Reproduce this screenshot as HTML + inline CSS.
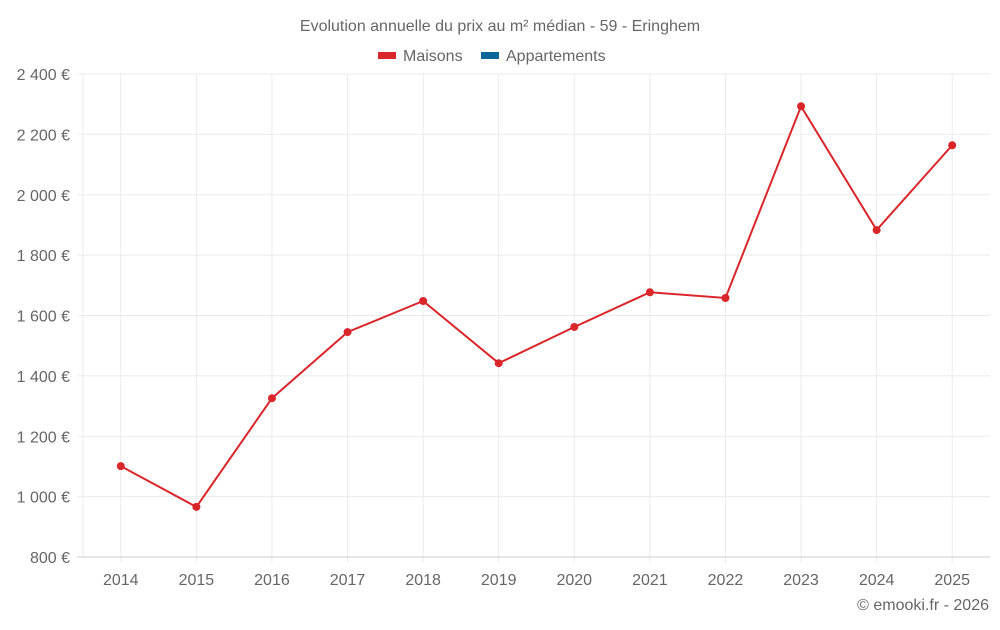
<!DOCTYPE html>
<html><head><meta charset="utf-8"><style>
body{margin:0;background:#fff;font-family:"Liberation Sans",sans-serif;}
svg text{font-family:"Liberation Sans",sans-serif;fill:#666;}
</style></head><body>
<svg id="chart" width="1000" height="625">
<text x="500" y="31" text-anchor="middle" font-size="16">Evolution annuelle du prix au m² médian - 59 - Eringhem</text>
<g>
<rect x="378" y="52" width="18" height="7" fill="#d9262a"/>
<text x="403" y="61" font-size="16">Maisons</text>
<rect x="481" y="52" width="18" height="7" fill="#0c6598"/>
<text x="506" y="61" font-size="16">Appartements</text>
</g>
<g id="grid"></g><g id="axes"></g><g id="series"></g>
<text x="989" y="610" text-anchor="end" font-size="16">© emooki.fr - 2026</text>
</svg>
<script>
const years=["2014","2015","2016","2017","2018","2019","2020","2021","2022","2023","2024","2025"];
const maisons=[1101,966,1326,1545,1648,1442,1562,1677,1658,2293,1883,2164];
const yTicks=[800,1000,1200,1400,1600,1800,2000,2200,2400];
const yTickLabels=["800 €","1 000 €","1 200 €","1 400 €","1 600 €","1 800 €","2 000 €","2 200 €","2 400 €"];
const L=83,R=990,T=74,B=557,yMin=800,yMax=2400;
const NS="http://www.w3.org/2000/svg";
const band=(R-L)/years.length;
const xS=i=>L+band*(i+0.5);
const yS=v=>B-(v-yMin)/(yMax-yMin)*(B-T);
function mk(tag,attrs,parent){const e=document.createElementNS(NS,tag);for(const k in attrs)e.setAttribute(k,attrs[k]);document.getElementById(parent).appendChild(e);return e;}
const lg=mk("line",{x1:L,x2:L,y1:T,y2:B,stroke:"#ebebeb"},"grid");


years.forEach((y,i)=>{
 const g=mk("line",{x1:xS(i),x2:xS(i),y1:T,y2:B+6,stroke:"#ebebeb"},"grid");
 
 
});
yTicks.forEach((v,i)=>{
 const g=mk("line",{x1:L-6,x2:R,y1:yS(v),y2:yS(v),stroke:i===0?"#ccc":"#ebebeb"},"grid");
 
 
 const t=mk("text",{x:70,y:yS(v)+6,"text-anchor":"end","font-size":"16"},"axes");
 t.textContent=yTickLabels[i];
 
 
});
years.forEach((y,i)=>{
 const t=mk("text",{x:xS(i),y:585,"text-anchor":"middle","font-size":"16"},"axes");
 t.textContent=y;
 
 
});
const p=mk("polyline",{points:maisons.map((v,i)=>xS(i)+","+yS(v)).join(" "),fill:"none",stroke:"#d9262a","stroke-width":2},"series");


maisons.forEach((v,i)=>{
 const c=mk("circle",{cx:xS(i),cy:yS(v),r:4,fill:"#d9262a"},"series");
 
 
});
</script>
</body></html>
